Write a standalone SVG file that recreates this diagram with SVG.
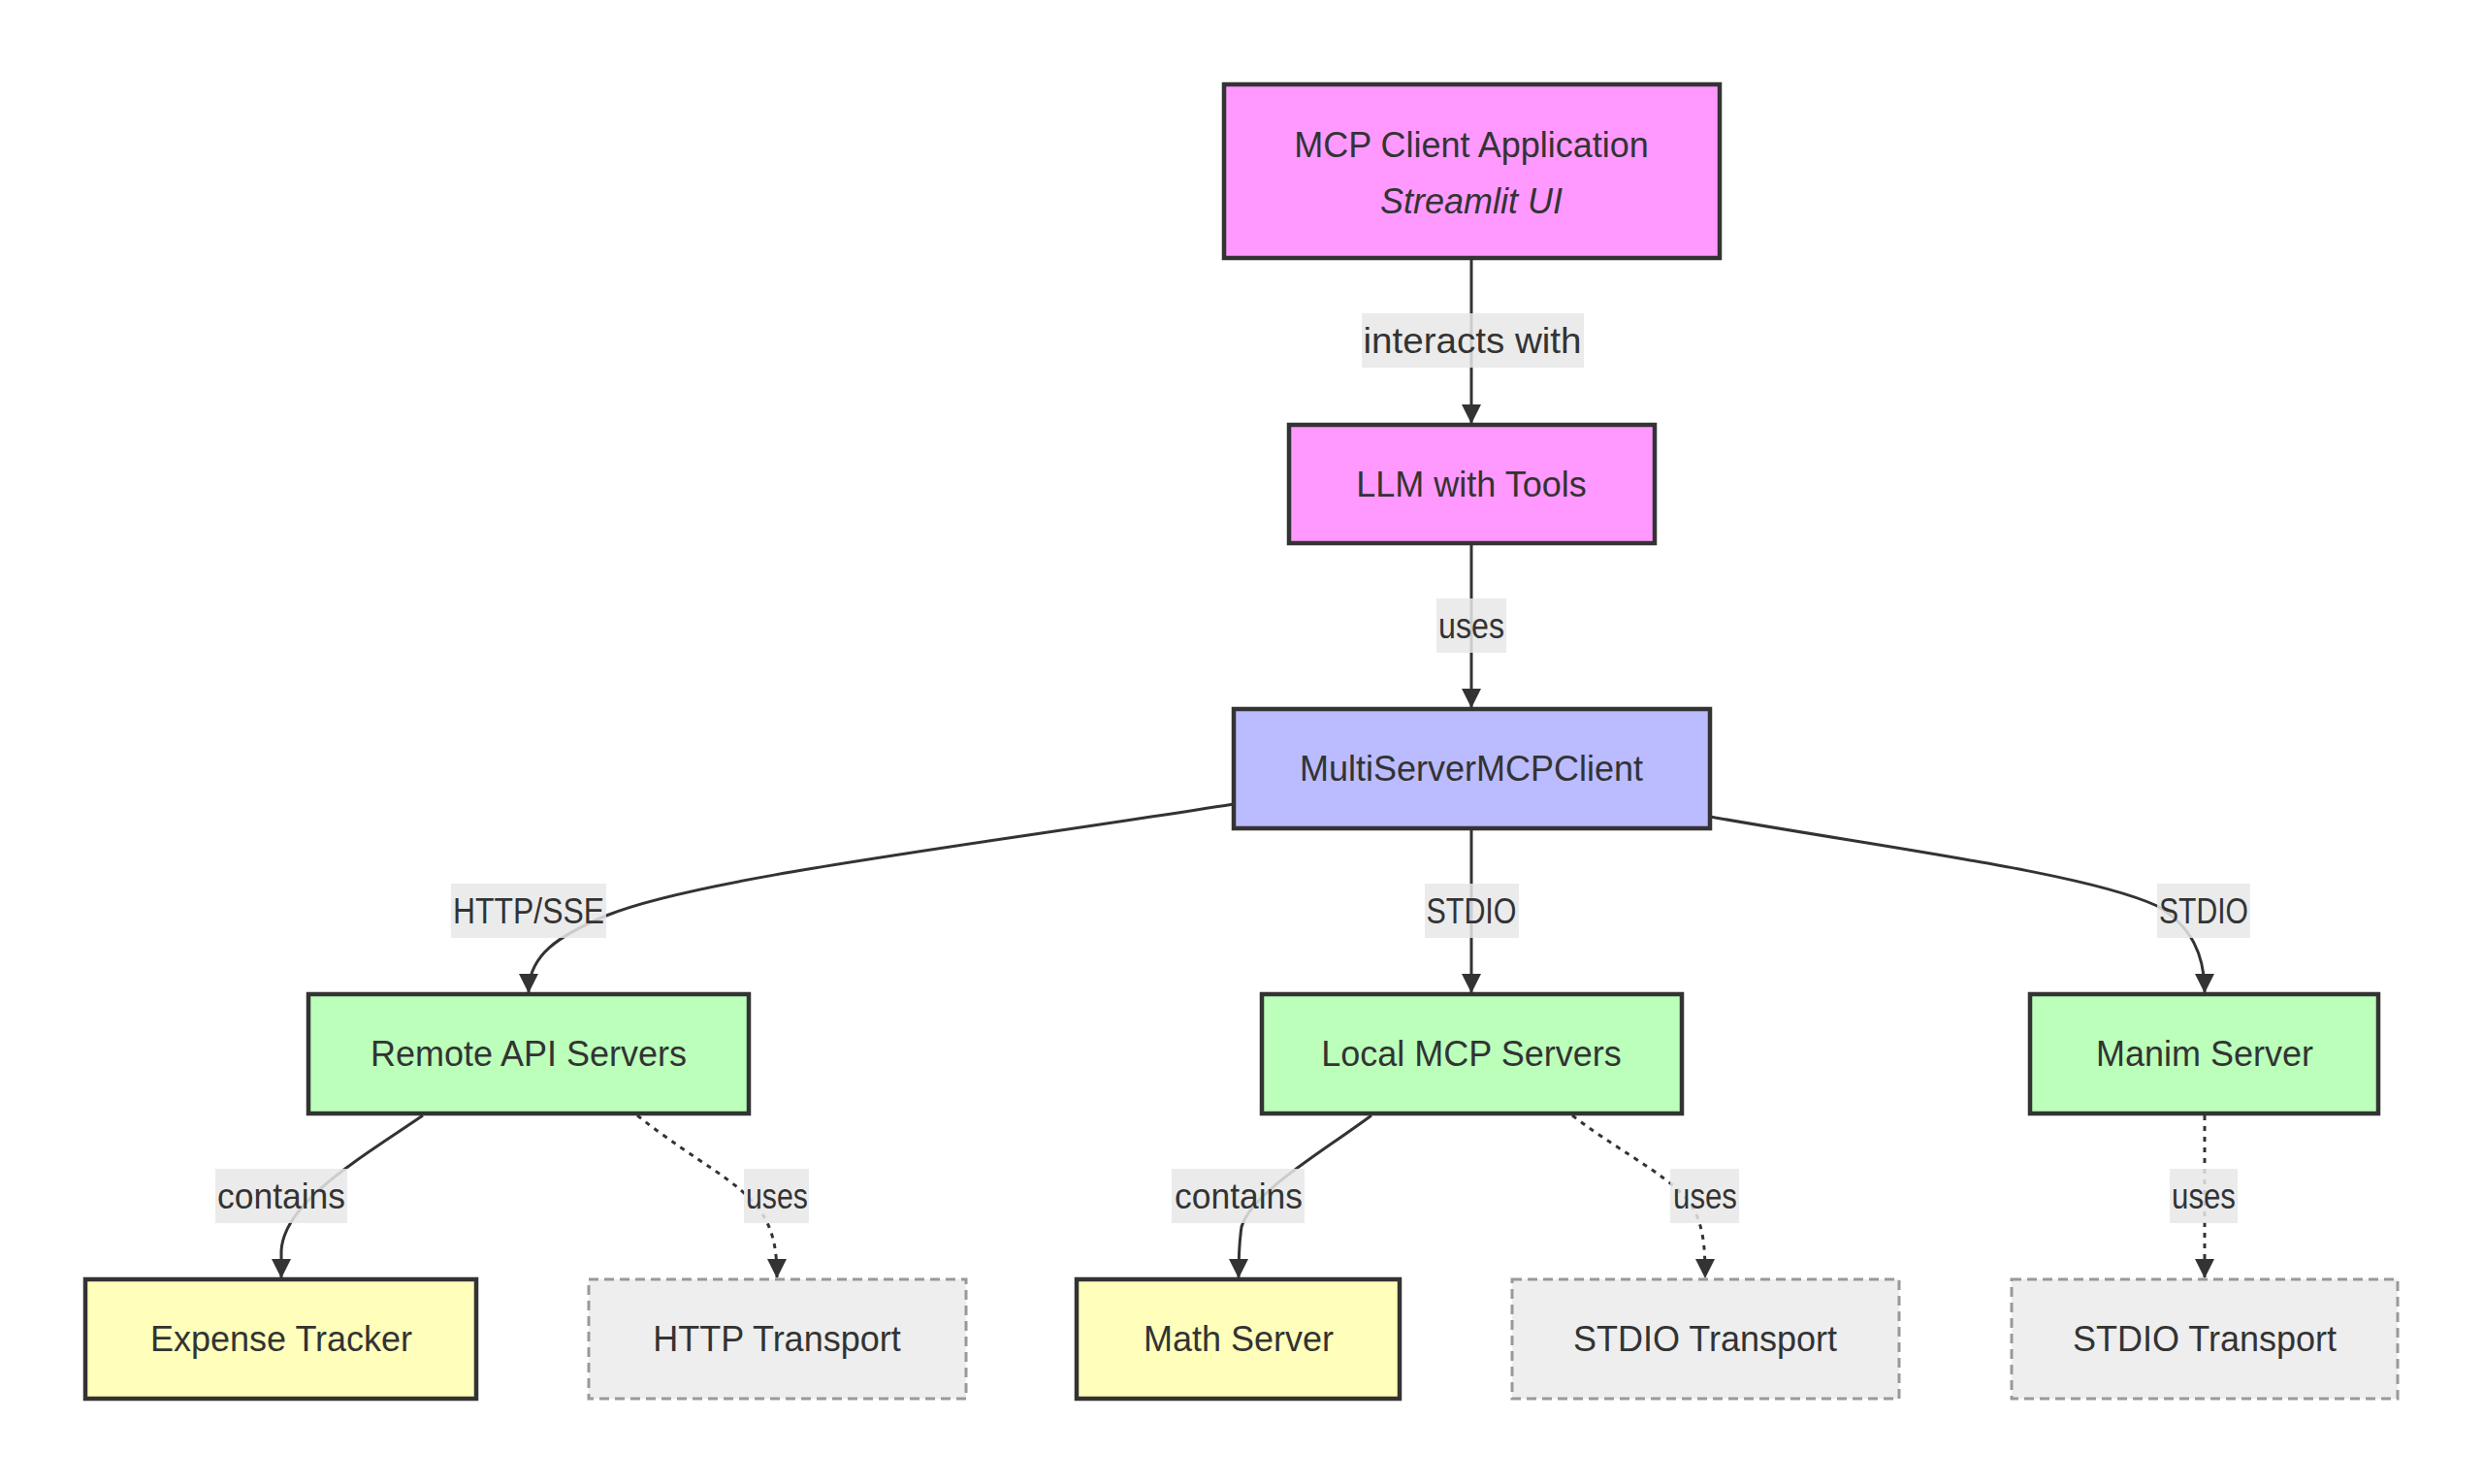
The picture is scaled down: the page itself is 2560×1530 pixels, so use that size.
<svg xmlns="http://www.w3.org/2000/svg" width="2560" height="1530" viewBox="0 0 2560 1530">
<defs>
<marker id="arrow" viewBox="0 0 20 20" refX="19" refY="10" markerWidth="20" markerHeight="20" markerUnits="userSpaceOnUse" orient="auto">
<path d="M0,0 L20,10 L0,20 z" fill="#333333"/>
</marker>
</defs>
<style>
.node rect{stroke:#333333;stroke-width:4.5}
.pink rect{fill:#ff99ff}
.blue rect{fill:#bbbbff}
.green rect{fill:#bbffbb}
.yellow rect{fill:#ffffbb}
.trans rect{fill:#eeeeee;stroke:#999999;stroke-width:3;stroke-dasharray:10 6}
text{font-family:"Liberation Sans",Arial,sans-serif;font-size:36px;fill:#333333;text-anchor:middle;dominant-baseline:central}
.edge{fill:none;stroke:#333333;stroke-width:3;marker-end:url(#arrow)}
.dotted{stroke-dasharray:5 6}
.lbl rect{fill:#e8e8e8;fill-opacity:0.85}
</style>
<rect width="2560" height="1530" fill="#ffffff"/>
<g id="connectors">
<path class="edge" d="M1517,268 L1517,436"/>
<path class="edge" d="M1517,562 L1517,729"/>
<path class="edge" d="M1517,856 L1517,1023"/>
<path class="edge" d="M1272,829 C1000,872 720,905 625,944 C575,965 545,985 545,1023"/>
<path class="edge" d="M1763,842 C1950,875 2150,900 2224,934 C2260,955 2273,985 2273,1023"/>
<path class="edge" d="M436,1150 C370,1195 292,1240 290,1290 L290,1317"/>
<path class="edge dotted" d="M657,1150 C720,1200 760,1215 785,1250 C798,1270 801,1290 801,1317"/>
<path class="edge" d="M1414,1150 C1360,1190 1290,1230 1280,1265 C1277,1285 1277,1300 1277,1317"/>
<path class="edge dotted" d="M1621,1150 C1680,1195 1730,1215 1748,1250 C1757,1270 1758,1290 1758,1317"/>
<path class="edge dotted" d="M2273,1150 L2273,1317"/>
</g>
<g id="edge-labels">
<g class="lbl"><rect x="1404" y="323" width="229" height="56"/><text x="1518" y="351" textLength="225" lengthAdjust="spacingAndGlyphs">interacts with</text></g>
<g class="lbl"><rect x="1481" y="617" width="72" height="56"/><text x="1517" y="645" textLength="68" lengthAdjust="spacingAndGlyphs">uses</text></g>
<g class="lbl"><rect x="465" y="911" width="160" height="56"/><text x="545" y="939" textLength="156" lengthAdjust="spacingAndGlyphs">HTTP/SSE</text></g>
<g class="lbl"><rect x="1469" y="911" width="97" height="56"/><text x="1517" y="939" textLength="93" lengthAdjust="spacingAndGlyphs">STDIO</text></g>
<g class="lbl"><rect x="2224" y="911" width="96" height="56"/><text x="2272" y="939" textLength="92" lengthAdjust="spacingAndGlyphs">STDIO</text></g>
<g class="lbl"><rect x="222" y="1205" width="136" height="56"/><text x="290" y="1233" textLength="132" lengthAdjust="spacingAndGlyphs">contains</text></g>
<g class="lbl"><rect x="767" y="1205" width="67" height="56"/><text x="801" y="1233" textLength="64" lengthAdjust="spacingAndGlyphs">uses</text></g>
<g class="lbl"><rect x="1208" y="1205" width="137" height="56"/><text x="1277" y="1233" textLength="132" lengthAdjust="spacingAndGlyphs">contains</text></g>
<g class="lbl"><rect x="1722" y="1205" width="71" height="56"/><text x="1758" y="1233" textLength="66" lengthAdjust="spacingAndGlyphs">uses</text></g>
<g class="lbl"><rect x="2237" y="1205" width="70" height="56"/><text x="2272" y="1233" textLength="66" lengthAdjust="spacingAndGlyphs">uses</text></g>
</g>
<g id="mcp-client" class="node pink"><rect x="1262" y="87" width="511" height="179"/><text x="1517" y="149">MCP Client Application</text><text x="1517" y="207" font-style="italic">Streamlit UI</text></g>
<g id="llm" class="node pink"><rect x="1329" y="438" width="377" height="122"/><text x="1517" y="499">LLM with Tools</text></g>
<g id="multi" class="node blue"><rect x="1272" y="731" width="491" height="123"/><text x="1517" y="792">MultiServerMCPClient</text></g>
<g id="remote" class="node green"><rect x="318" y="1025" width="454" height="123"/><text x="545" y="1086">Remote API Servers</text></g>
<g id="local" class="node green"><rect x="1301" y="1025" width="433" height="123"/><text x="1517" y="1086">Local MCP Servers</text></g>
<g id="manim" class="node green"><rect x="2093" y="1025" width="359" height="123"/><text x="2273" y="1086">Manim Server</text></g>
<g id="expense" class="node yellow"><rect x="88" y="1319" width="403" height="123"/><text x="290" y="1380">Expense Tracker</text></g>
<g id="http-transport" class="node trans"><rect x="607" y="1319" width="389" height="123"/><text x="801" y="1380">HTTP Transport</text></g>
<g id="math" class="node yellow"><rect x="1110" y="1319" width="333" height="123"/><text x="1277" y="1380">Math Server</text></g>
<g id="stdio-transport-1" class="node trans"><rect x="1559" y="1319" width="399" height="123"/><text x="1758" y="1380">STDIO Transport</text></g>
<g id="stdio-transport-2" class="node trans"><rect x="2074" y="1319" width="398" height="123"/><text x="2273" y="1380">STDIO Transport</text></g>
</svg>
